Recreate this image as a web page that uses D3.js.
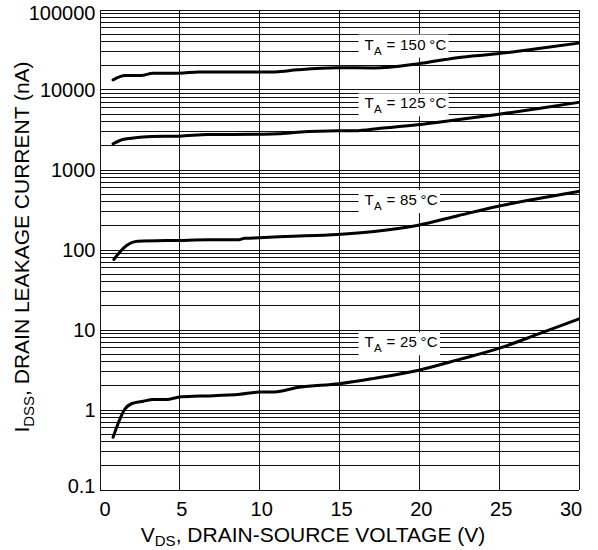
<!DOCTYPE html>
<html>
<head>
<meta charset="utf-8">
<script src="https://cdn.jsdelivr.net/npm/d3@7"></script>
<style>
  html, body { margin: 0; padding: 0; background: #fff; }
  svg { display: block; font-family: "Liberation Sans", Arial, Helvetica, sans-serif; }
</style>
</head>
<body>
<svg id="chart" width="598" height="550"></svg>
<script>
// Axis ticks
const xTicks = [0, 5, 10, 15, 20, 25, 30];
const yDecades = [0.1, 1, 10, 100, 1000, 10000, 100000];

// Drain leakage current (nA) versus drain-source voltage (V) per ambient temperature
const temps = ["150", "125", "85", "25"];

const vds150  = [0.85, 1.6, 2.6, 3.35, 5.0, 6.2, 7.9, 10.0, 11.0, 12.4, 14.9, 17.2, 19.9, 22.4, 24.9, 27.5, 30];
const idss150 = [13200, 14950, 14950, 16000, 16000, 16600, 16600, 16500, 16600, 17600, 18700, 18600, 20900, 25000, 27900, 32500, 38000];

const vds125  = [0.85, 1.45, 2.0, 3.25, 5.0, 6.8, 8.25, 10.0, 11.2, 12.4, 14.9, 16.0, 17.6, 19.9, 22.4, 24.9, 27.5, 30];
const idss125 = [2100, 2370, 2460, 2590, 2610, 2740, 2740, 2760, 2790, 2920, 3050, 3050, 3280, 3620, 4180, 4870, 5790, 6900];

const vds85  = [0.9, 1.25, 1.7, 2.4, 5.0, 6.8, 8.65, 9.1, 10.0, 11.6, 14.9, 17.2, 19.9, 22.5, 24.9, 27.5, 30];
const idss85 = [75, 92, 112, 127, 130, 132, 132, 138, 140, 145, 154, 168, 200, 266, 345, 434, 531];

const vds25  = [0.85, 1.6, 2.0, 2.75, 3.35, 4.2, 5.0, 6.3, 8.8, 10.0, 10.8, 12.5, 15.0, 17.2, 20.0, 22.5, 25.0, 27.5, 30];
const idss25 = [0.45, 1.02, 1.18, 1.27, 1.33, 1.33, 1.43, 1.47, 1.55, 1.65, 1.65, 1.9, 2.1, 2.45, 3.1, 4.2, 5.8, 8.8, 13.5];

const seriesV = [vds150, vds125, vds85, vds25];
const seriesI = [idss150, idss125, idss85, idss25];

// Where each temperature tag sits, in data units (left edge of text, baseline)
const tagV = 16.6;
const tagI = [31600, 5820, 360, 6.0];

const svg = d3.select("#chart");
svg.append("rect").attr("width", 598).attr("height", 550).attr("fill", "#fff");

const x = d3.scaleLinear().domain([0, 30]).range([99.5, 578.5]);
const y = d3.scaleLog().domain([0.1, 100000]).range([489.5, 9.5]);

// Grid: decade and minor horizontal lines
const hLines = [];
for (let k = -1; k <= 4; k++) {
  for (let m = 1; m <= 9; m++) hLines.push(m * Math.pow(10, k));
}
hLines.push(100000);

const grid = svg.append("g").attr("shape-rendering", "crispEdges");
grid.selectAll("line.h").data(hLines).join("line")
  .attr("class", "h")
  .attr("x1", x(0)).attr("x2", x(30))
  .attr("y1", d => Math.round(y(d)) + 0.5).attr("y2", d => Math.round(y(d)) + 0.5)
  .attr("stroke", "#111").attr("stroke-width", 1);

grid.selectAll("line.v").data(xTicks).join("line")
  .attr("class", "v")
  .attr("x1", d => Math.round(x(d)) + 0.5).attr("x2", d => Math.round(x(d)) + 0.5)
  .attr("y1", y(100000)).attr("y2", y(0.1))
  .attr("stroke", "#111").attr("stroke-width", 1);

// Curves
const line = d3.line()
  .x(d => x(d[0]))
  .y(d => y(d[1]))
  .curve(d3.curveMonotoneX);

seriesV.forEach((vs, i) => {
  const pts = vs.map((v, j) => [v, seriesI[i][j]]);
  svg.append("path")
    .attr("d", line(pts))
    .attr("fill", "none")
    .attr("stroke", "#000")
    .attr("stroke-width", 3)
    .attr("stroke-linejoin", "round")
    .attr("stroke-linecap", "round");
});

// Temperature tags with white backing
temps.forEach((t, i) => {
  const g = svg.append("g");
  const txt = g.append("text")
    .attr("x", x(tagV)).attr("y", y(tagI[i]))
    .attr("font-size", 15)
    .attr("letter-spacing", 0.3)
    .attr("fill", "#000");
  txt.append("tspan").text("T");
  txt.append("tspan").attr("font-size", 11.5).attr("dy", 5).text("A");
  txt.append("tspan").attr("dy", -5).text(" = " + t + "\u2009\u00B0C");
  const bb = txt.node().getBBox();
  g.insert("rect", "text")
    .attr("x", bb.x - 6).attr("y", bb.y - 1)
    .attr("width", bb.width + 8).attr("height", bb.height + 2)
    .attr("fill", "#fff");
});

// Axes (labels only; grid forms the frame)
const fmt = d => d >= 1 ? d3.format("d")(d) : String(d);

const yAxis = svg.append("g")
  .attr("transform", `translate(${x(0)},0)`)
  .call(d3.axisLeft(y).tickValues(yDecades).tickFormat(fmt).tickSize(0).tickPadding(4));
yAxis.select(".domain").remove();
yAxis.selectAll("text")
  .attr("font-size", 20)
  .attr("font-family", "'Liberation Sans', Arial, Helvetica, sans-serif")
  .attr("fill", "#000")
  .attr("y", d => d === 100000 ? 4 : d === 0.1 ? -3 : 1);

const xAxis = svg.append("g")
  .attr("transform", `translate(0,${y(0.1)})`)
  .call(d3.axisBottom(x).tickValues(xTicks).tickSize(0).tickPadding(12));
xAxis.select(".domain").remove();
xAxis.selectAll("text")
  .attr("font-size", 20)
  .attr("font-family", "'Liberation Sans', Arial, Helvetica, sans-serif")
  .attr("fill", "#000")
  .attr("dx", d => d === 0 ? 5 : d === 30 ? -8 : 2);

// Axis titles
const xt = svg.append("text")
  .attr("x", 313).attr("y", 542)
  .attr("text-anchor", "middle")
  .attr("font-size", 21)
  .attr("fill", "#000");
xt.append("tspan").text("V");
xt.append("tspan").attr("font-size", 15).attr("dy", 4).text("DS");
xt.append("tspan").attr("dy", -4).text(", DRAIN-SOURCE VOLTAGE (V)");

const yt = svg.append("text")
  .attr("transform", "translate(29,247) rotate(-90)")
  .attr("text-anchor", "middle")
  .attr("font-size", 21)
  .attr("fill", "#000");
yt.append("tspan").text("I");
yt.append("tspan").attr("font-size", 15).attr("dy", 5).text("DSS");
yt.append("tspan").attr("dy", -5).text(", DRAIN LEAKAGE CURRENT (nA)");
</script>
</body>
</html>
